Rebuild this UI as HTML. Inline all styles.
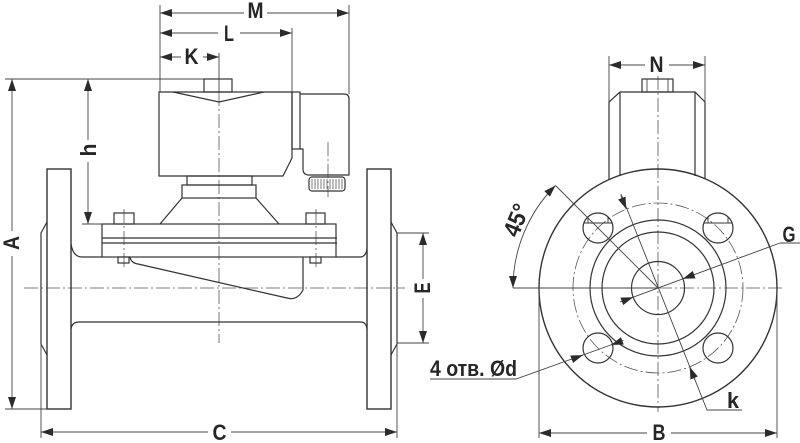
<!DOCTYPE html>
<html><head><meta charset="utf-8"><style>
html,body{margin:0;padding:0;background:#fff}
svg{display:block}
text{font-family:"Liberation Sans Narrow","Liberation Sans",sans-serif;font-weight:bold;fill:#262626;font-size:22px}
</style></head><body>
<svg width="800" height="443" viewBox="0 0 800 443" xmlns="http://www.w3.org/2000/svg">
<defs>
<marker id="ar" viewBox="0 0 12 8" refX="12" refY="4" markerWidth="12" markerHeight="8" markerUnits="userSpaceOnUse" orient="auto-start-reverse"><path d="M0,0L12,4L0,8z" fill="#2b2b2b"/></marker>
</defs>

<!-- center lines -->
<g fill="none" stroke="#555" stroke-width="0.8" stroke-dasharray="14 3 2 3">
<line x1="24" y1="288" x2="405" y2="288"/>
<line x1="219" y1="92" x2="219" y2="343"/>
<line x1="124" y1="209" x2="124" y2="268"/>
<line x1="316" y1="209" x2="316" y2="268"/>
<line x1="328" y1="142" x2="328" y2="197"/>
<line x1="658" y1="288" x2="783" y2="288"/>
<line x1="658" y1="76" x2="658" y2="412"/>
<circle cx="658" cy="288" r="85"/>
</g>

<!-- object lines left view -->
<g fill="none" stroke="#333" stroke-width="1.2">
<rect x="204" y="79" width="28" height="13"/>
<path d="M159,92 L292,92 L292,158 L283,176 L159,176 Z"/>
<path d="M173,92 L219,102 L264,92"/>
<rect x="292" y="92" width="8" height="57"/>
<path d="M300,149 L303,149 L303,169 Q303,175 309,175 L349,175 L349,99 Q349,94 344,94 L300,94"/>
<rect x="309" y="177" width="36" height="14" rx="3"/>
<rect x="187" y="176" width="65" height="9"/>
<rect x="182" y="185" width="74" height="13"/>
<path d="M182,198 L160,224 M256,198 L279,224"/>
<rect x="102" y="224" width="234" height="33"/>
<path d="M102,238 L337,238 M102,243 L337,243"/>
<rect x="114" y="213" width="20" height="11"/>
<rect x="306" y="213" width="19" height="11"/>
<rect x="118" y="257" width="11" height="6"/>
<rect x="310" y="257" width="11" height="6"/>
<path d="M130,257 Q131,263 138,264 L287,298 Q297,301 303,290 L303,257"/>
<path d="M71,244 Q73,257 82,257 L102,257"/>
<path d="M336,257 L361,257 Q366,256 367,249"/>
<path d="M71,329 Q72,322 79,322 L361,322 Q366,322 367,329"/>
<rect x="47" y="169" width="24" height="240" stroke-width="1.4"/>
<rect x="367" y="169" width="24" height="240" stroke-width="1.4"/>
<path d="M47,222 L41,233 L41,344 L47,355"/>
<path d="M391,222 L397,233 L397,344 L391,355"/>
</g>
<g stroke="#444" stroke-width="0.7">
<path d="M312,179V189M315,179V189M318,179V189M321,179V189M324,179V189M327,179V189M330,179V189M333,179V189M336,179V189M339,179V189M342,179V189"/>
</g>

<!-- object lines right view -->
<g fill="none" stroke="#333" stroke-width="1.2">
<rect x="642" y="79" width="31" height="13"/>
<path d="M647,79V92M668,79V92" stroke-width="0.8"/>
<path d="M609,180 L609,102 L620,92 L695,92 L705,102 L705,179"/>
<path d="M620,92 L620,176 M695,92 L695,176"/>
<circle cx="658" cy="288" r="119" stroke-width="1.4"/>
<circle cx="658" cy="288" r="68"/>
<circle cx="658" cy="288" r="56"/>
<circle cx="658" cy="288" r="26.5"/>
<circle cx="598" cy="228" r="15"/>
<circle cx="718" cy="228" r="15"/>
<circle cx="598" cy="348" r="15"/>
<circle cx="718" cy="348" r="15"/>
<path d="M583.9,223 L612.1,223 M588,223 V216.8 M608,223 V216.8" stroke-width="0.9"/>
<path d="M703.9,223 L732.1,223 M708,223 V216.8 M728,223 V216.8" stroke-width="0.9"/>
</g>

<!-- dimension lines -->
<g fill="none" stroke="#444" stroke-width="0.9">
<path d="M160,5 V92 M349,5 V94 M292,28 V92 M219,53 V92"/>
<path d="M5,79 H204 M5,409 H47 M82,224 H102"/>
<path d="M397,233 H429 M397,343 H429"/>
<path d="M41,345 V438 M397,343 V438"/>
<path d="M609,56 V102 M705,56 V102"/>
<path d="M539,288 V438 M777,288 V438"/>
<path d="M513,288 H658"/>
<path d="M555.5,185.5 L658,288"/>
<path d="M621,194 L707,410 L742,410"/>
<path d="M780,243 L800,243 M780,243 L620,302"/>
<path d="M430,379 L516,379 L623.3,340.5"/>
<g marker-start="url(#ar)" marker-end="url(#ar)">
<line x1="160" y1="13" x2="349" y2="13"/>
<line x1="160" y1="33" x2="292" y2="33"/>
<line x1="160" y1="57" x2="219" y2="57"/>
<line x1="12" y1="79" x2="12" y2="409"/>
<line x1="88" y1="79" x2="88" y2="224"/>
<line x1="423" y1="233" x2="423" y2="343"/>
<line x1="41" y1="432" x2="397" y2="432"/>
<line x1="609" y1="65" x2="705" y2="65"/>
<line x1="539" y1="433" x2="777" y2="433"/>
<path d="M513,288 A145,145 0 0 1 555.5,185.5"/>
</g>
<g marker-end="url(#ar)">
<line x1="620.8" y1="195.5" x2="626.3" y2="209.1"/>
<line x1="694.9" y1="379.9" x2="689.7" y2="366.9"/>
<line x1="695.1" y1="274.3" x2="682.9" y2="278.8"/>
<line x1="620.9" y1="301.7" x2="633.1" y2="297.2"/>
<line x1="570.7" y1="359.6" x2="582.9" y2="355.1"/>
<line x1="623.3" y1="340.5" x2="611.1" y2="344.9"/>
</g>
</g>

<!-- label backgrounds -->
<g fill="#fff">
<rect x="244" y="3" width="23" height="19"/>
<rect x="218" y="24" width="22" height="19"/>
<rect x="181" y="47" width="22" height="19"/>
<rect x="645" y="55" width="24" height="19"/>
<rect x="208" y="423" width="23" height="18"/>
<rect x="647" y="423" width="24" height="19"/>
<rect x="2" y="231" width="19" height="25"/>
<rect x="78" y="140" width="20" height="22"/>
<rect x="413" y="279" width="19" height="19"/>
<rect x="-19" y="-11" width="38" height="22" transform="translate(516,220) rotate(-68)"/>
</g>

<!-- labels -->
<text x="255.5" y="18" text-anchor="middle" textLength="16" lengthAdjust="spacingAndGlyphs">M</text>
<text x="229" y="41" text-anchor="middle" textLength="10" lengthAdjust="spacingAndGlyphs">L</text>
<text x="191.5" y="64" text-anchor="middle" textLength="14" lengthAdjust="spacingAndGlyphs">K</text>
<text x="656.5" y="72" text-anchor="middle" textLength="14" lengthAdjust="spacingAndGlyphs">N</text>
<text x="219.5" y="440" text-anchor="middle" textLength="14" lengthAdjust="spacingAndGlyphs">C</text>
<text x="659" y="440" text-anchor="middle" textLength="13" lengthAdjust="spacingAndGlyphs">B</text>
<text x="789" y="242" text-anchor="middle" textLength="13" lengthAdjust="spacingAndGlyphs">G</text>
<text x="733" y="408" text-anchor="middle" textLength="12" lengthAdjust="spacingAndGlyphs">k</text>
<text x="11" y="251" text-anchor="middle" textLength="14" lengthAdjust="spacingAndGlyphs" transform="rotate(-90 11 243)">A</text>
<text x="88" y="158" text-anchor="middle" textLength="13" lengthAdjust="spacingAndGlyphs" transform="rotate(-90 88 150)">h</text>
<text x="422" y="296" text-anchor="middle" textLength="11" lengthAdjust="spacingAndGlyphs" transform="rotate(-90 422 288)">E</text>
<text x="516" y="228.5" text-anchor="middle" textLength="33" lengthAdjust="spacingAndGlyphs" transform="rotate(-68 516 220)" style="font-size:24px">45°</text>
<text x="430" y="376" textLength="87" lengthAdjust="spacingAndGlyphs">4 отв. Ød</text>
</svg>
</body></html>
